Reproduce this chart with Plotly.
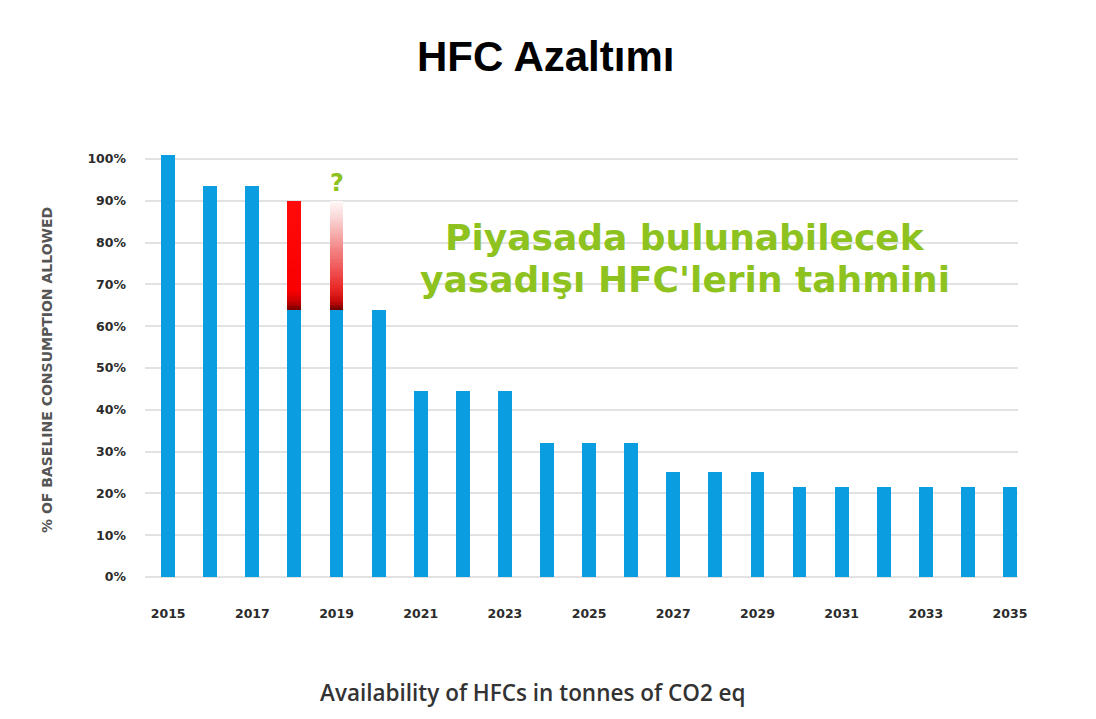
import numpy as np
import plotly.graph_objects as go

# ---- data ----
years = list(range(2015, 2036))
allowed_pct = [101, 93.5, 93.5, 64, 64, 64, 44.5, 44.5, 44.5, 32, 32, 32,
               25, 25, 25, 21.5, 21.5, 21.5, 21.5, 21.5, 21.5]
illegal_years = [2018, 2019]
illegal_top = [90, 90]          # estimated upper bound incl. illegal HFCs
x_tick_vals = list(range(2015, 2036, 2))
y_tick_vals = list(range(0, 101, 10))

title_text = "HFC Azaltımı"
note_text = ["Piyasada bulunabilecek", "yasadışı HFC'lerin tahmini"]
x_title = "Availability of HFCs in tonnes of CO2 eq"
y_title = "% OF BASELINE CONSUMPTION ALLOWED"

BLUE = "#0a9de0"
GREEN = "#8dc21f"
BAR_W = 0.33

# page has an 8px body margin -> figure coordinates = screen - 8
OFF = 8
W, H = 1080, 703
ML, MR, MT, MB = 145 - OFF, W - (1018 - OFF), 152 - OFF, H - (579 - OFF)
PW, PH = W - ML - MR, H - MT - MB

fig = go.Figure()

fig.add_trace(go.Bar(x=years, y=allowed_pct, width=BAR_W,
                     marker=dict(color=BLUE, line=dict(width=0)),
                     showlegend=False, hoverinfo="x+y"))


def interp_color(stops, t):
    for (t0, c0), (t1, c1) in zip(stops[:-1], stops[1:]):
        if t0 <= t <= t1:
            f = 0 if t1 == t0 else (t - t0) / (t1 - t0)
            r, g, b = [round(a + (bb - a) * f) for a, bb in zip(c0, c1)]
            return f"rgb({r},{g},{b})"
    r, g, b = stops[-1][1]
    return f"rgb({r},{g},{b})"


grad_stops = {
    2018: [(0.0, (120, 0, 0)), (0.08, (200, 0, 0)), (0.18, (250, 0, 0)),
           (1.0, (255, 10, 10))],
    2019: [(0.0, (110, 0, 0)), (0.08, (200, 10, 10)), (0.2, (235, 40, 40)),
           (0.55, (243, 130, 130)), (0.85, (250, 215, 215)),
           (1.0, (255, 248, 248))],
}

n_seg = 60
for yr, top in zip(illegal_years, illegal_top):
    base_val = allowed_pct[years.index(yr)]
    edges = np.linspace(base_val, top, n_seg + 1)
    bases = edges[:-1]
    heights = np.diff(edges) * 1.05
    mids = (np.arange(n_seg) + 0.5) / n_seg
    cols = [interp_color(grad_stops[yr], t) for t in mids]
    fig.add_trace(go.Bar(x=[yr] * n_seg, y=heights, base=bases, width=BAR_W,
                         marker=dict(color=cols, line=dict(width=0)),
                         showlegend=False, hoverinfo="skip"))

fig.update_layout(
    width=W, height=H,
    barmode="overlay",
    plot_bgcolor="white", paper_bgcolor="white",
    margin=dict(l=ML, r=MR, t=MT, b=MB),
    bargap=0,
    font=dict(family="DejaVu Sans", color="#2b2b2b"),
)

fig.update_xaxes(
    range=[2014.45, 2035.19],
    tickmode="array", tickvals=x_tick_vals,
    ticktext=[str(v) for v in x_tick_vals],
    tickfont=dict(family="DejaVu Sans", size=12.5, color="#2b2b2b", weight="bold"),
    ticks="", ticklabelstandoff=25,
    showgrid=False, zeroline=False, showline=False,
)

fig.update_yaxes(
    range=[-0.5, 101.7],
    tickmode="array", tickvals=y_tick_vals,
    ticktext=[f"{v}%" for v in y_tick_vals],
    tickfont=dict(family="DejaVu Sans", size=12.5, color="#2b2b2b", weight="bold"),
    ticks="", ticklabelstandoff=18,
    showgrid=True, gridcolor="#e2e2e2", gridwidth=2,
    zeroline=False, showline=False,
)

# axis titles as positioned text
fig.add_annotation(text=x_title, xref="paper", yref="paper",
                   x=(533 - 145) / PW, y=-(692 - 579) / PH,
                   xanchor="center", yanchor="middle", showarrow=False,
                   font=dict(family="Open Sans", size=22.5, color="#333333", weight=600))
fig.add_annotation(text=y_title, xref="paper", yref="paper", textangle=-90,
                   x=-(145 - 47) / PW, y=(579 - 370) / PH,
                   xanchor="center", yanchor="middle", showarrow=False,
                   font=dict(family="DejaVu Sans", size=14, color="#555555", weight="bold"))

# title
fig.add_annotation(text=f"<b>{title_text}</b>", xref="paper", yref="paper",
                   x=(545 - 145) / PW, y=1 + (152 - 57) / PH,
                   xanchor="center", yanchor="middle", showarrow=False,
                   font=dict(family="Liberation Sans", size=42, color="black"))

# green note (two lines)
for txt, ypix in zip(note_text, [237, 279]):
    fig.add_annotation(text=f"<b>{txt}</b>", xref="paper", yref="paper",
                       x=(685 - 145) / PW, y=1 - (ypix - 152) / PH,
                       xanchor="center", yanchor="middle", showarrow=False,
                       font=dict(family="DejaVu Sans", size=36, color=GREEN))

fig.add_annotation(text="<b>?</b>", xref="x", yref="paper",
                   x=illegal_years[1], y=1 - (183 - 152) / PH,
                   xanchor="center", yanchor="middle", showarrow=False,
                   font=dict(family="DejaVu Sans", size=24, color=GREEN))

fig.write_html("out.html")
